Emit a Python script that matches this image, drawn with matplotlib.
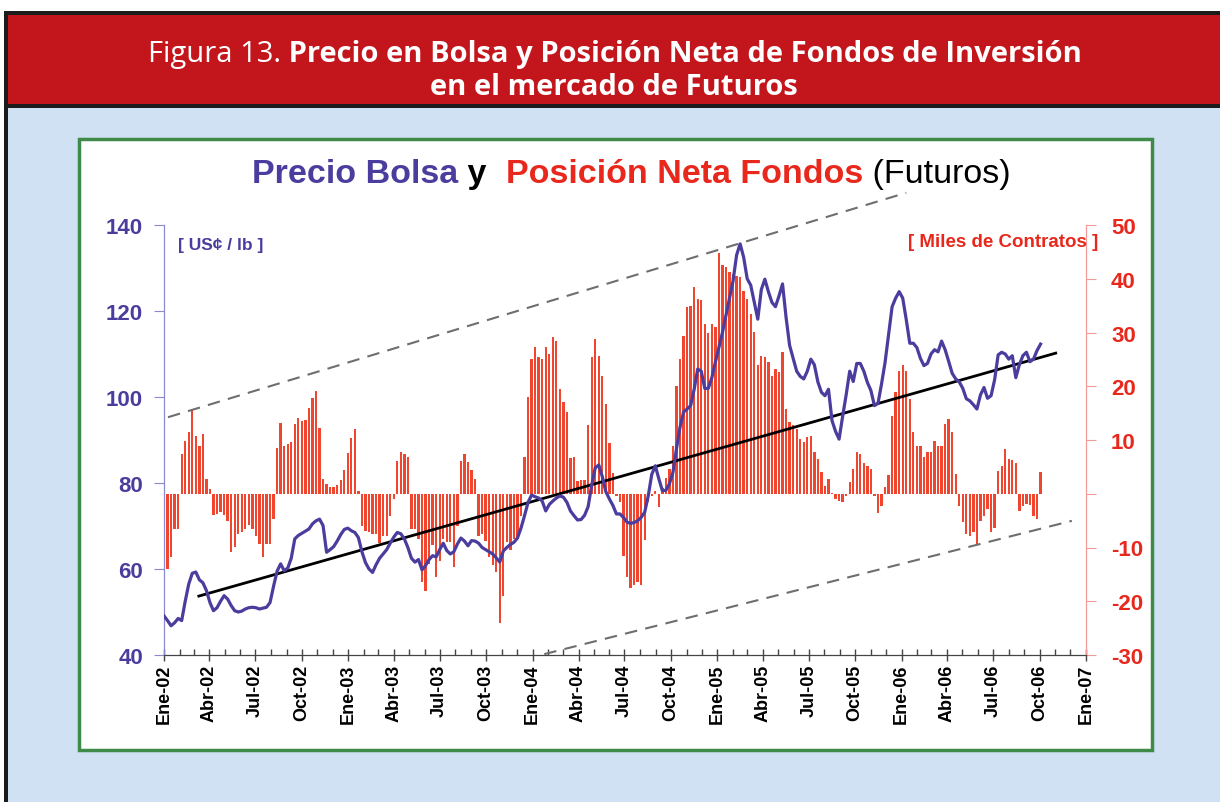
import matplotlib
matplotlib.use("Agg")
import matplotlib.pyplot as plt
import matplotlib.dates as mdates
from matplotlib.patches import Rectangle
from matplotlib.ticker import FixedLocator, FuncFormatter
import pandas as pd

# weekly series, first week = Ene-02
first_week = "2002-01-01"

# posicion neta fondos (miles de contratos)
net_position = [
    -10.3, -14, -11.8, -6.5, -6.5, 7.4, 9.9, 11.4, 15.8, 10.8, 8.9, 11.1, 2.7, 0.8,
    -4, -3.7, -3.4, -4, -5, -10.9, -9.9, -7.5, -7.1, -6.5, -5.9, -6.5, -7.8, -9.3, -11.8, -9.3, -9.3, -4.7,
    8.5, 13.2, 8.8, 9.2, 9.7, 12.9, 14.1, 13.5, 13.8, 16, 17.8, 19.1, 12.2, 2.8, 1.9, 1.2, 1.2, 1.6, 2.5, 4.5, 7.5, 10.4, 12, 0.5,
    -6, -6.9, -7.2, -7.5, -7.5, -9.2, -7.8, -7.8, -4.2, -1,
    6.1, 7.7, 7.4, 6.8,
    -6.6, -6.6, -8.4, -16.5, -18, -13, -9.6, -15.5, -12.5, -8.4, -9, -9, -13.7, -6,
    6.1, 7.4, 6, 4.5, 2.7,
    -7.8, -7.5, -8.8, -11.7, -13.2, -14.5, -24, -19, -9, -10.4, -8.4, -8.4, -4.1,
    6.8, 18, 25.1, 27.3, 25.4, 25.1, 27.3, 26, 29.1, 28.5, 19.4, 17, 15.2, 6.6, 6.8, 2.3, 2.5, 2.5,
    12.7, 25.4, 28.8, 25.7, 22, 16.7, 9.4, 3.9, -0.5,
    -1.6, -11.6, -15.5, -17.5, -16.9, -16.5, -16.9, -8.6, -1.6, -0.5, 0.5, -2.5, 1, 3,
    4.6, 8.9, 20.1, 25.1, 29.4, 34.7, 35, 38.4, 36.3, 36, 31.6, 30, 31.6, 31, 44.7, 42.5, 42.2, 41.2,
    40.9, 40.6, 40.3, 37.8, 36.3, 33.5, 30.1, 23.9, 25.7, 25.4, 24.5, 22, 23.2, 22.6, 26.3, 15.8, 13.3, 12.7, 12, 10.2,
    9.6, 10.5, 10.8, 7.7, 6.5, 4, 1.5, 2.7, 0.2, -1, -1.3, -1.6, -0.4, 2.1, 4.6, 7.7, 7.4, 5.8, 5.2, 4.6,
    -0.4, -3.5, -2.2, 1.2, 3.4, 14.5, 18.9, 22.9, 23.9, 22.9, 17.6, 11.4, 8.9, 8.9, 6.8, 7.7, 7.7, 9.9, 8.9, 8.9,
    13, 13.9, 11.4, 3.7, -2.2, -5.3, -7.5, -7.8, -7.2, -9.4, -5, -4.1, -2.9, -7.2, -6.3, 4.3, 5.2, 8.3, 6.5, 6.2,
    5.8, -3.2, -2.2, -1.9, -2, -4.1, -4.7, 4,
]

# precio bolsa (US cents / lb)
price = [
    49.1, 48, 46.8, 47.5, 48.5, 48, 52.5, 56.5, 59, 59.3, 57.5, 56.8, 55, 52.2, 50.3, 51, 52.5, 53.8,
    53, 51.5, 50.3, 50, 50.2, 50.7, 51, 51.1, 51, 50.7, 50.9, 51.1, 52.2, 56, 59.5, 61.2, 59.6, 60.2,
    62.5, 67, 67.8, 68.3, 68.8, 69.3, 70.5, 71.2, 71.6, 70.1, 63.9, 64.5, 65.2, 66.5, 68, 69.2, 69.5, 68.9,
    68.5, 67.3, 64, 61.5, 60, 59.2, 61, 62.5, 63.5, 64.5, 66, 67.4, 68.5, 68.2, 67, 65, 62.5, 61.6,
    62.2, 59.8, 60.8, 62.2, 63.1, 62.8, 64.5, 66, 64.3, 63.5, 64, 65.8, 67.2, 66.5, 65.4, 66.6, 66.5, 66,
    65, 64.5, 64, 63.5, 62.6, 61.6, 64.2, 65, 65.7, 66.2, 67.2, 69.5, 72.4, 75.5, 77.2, 76.8,
    76.5, 75.8, 73.5, 75, 75.8, 76.5, 77, 76.7, 75.5, 73.5, 72.4, 71.4, 71.5, 72.5, 74.5, 79.5, 83.5, 84.2,
    81.5, 78, 76.3, 74.8, 72.8, 72.8, 72, 70.9, 70.6, 70.8, 71.2, 72, 73.2, 77, 82, 84, 81, 78.2,
    78.3, 79.8, 82.5, 88, 93, 96.5, 97.2, 98, 101.8, 106.5, 106, 102, 102, 104.5, 108.1, 111.5, 115, 119,
    123, 127, 133, 135.6, 132.5, 127.5, 126, 122, 118.1, 125, 127.4, 124.5, 122, 121, 123.5, 126.3, 118.5, 112,
    109, 106, 104.8, 104.2, 106, 108.8, 107.5, 103.5, 101.1, 100.3, 101.8, 94.5, 92, 90.2, 95.5, 100.5, 106, 103.6,
    107.8, 107.8, 106, 103.4, 101.5, 98, 98.5, 103, 108, 114.5, 121, 123, 124.5, 123, 118, 112.5, 112.5, 111.5,
    109, 107.3, 107.8, 110, 111, 110.5, 113, 111, 108.3, 105.5, 104.2, 103.5, 102, 99.6, 99.1, 98.2, 97.2, 100.5,
    102.2, 99.7, 100.3, 104, 109.8, 110.4, 110, 108.8, 109.6, 104.5, 107.5, 109.6, 110.4, 108.2, 108.8, 110.8, 112.3,
]

# lineas de tendencia (fecha, precio)
trend_dates = ["2002-03-11", "2006-11-02"]
trend_price = [53.7, 110.2]
upper_dates = ["2002-01-09", "2006-01-10"]
upper_price = [95.3, 147.5]
lower_dates = ["2004-01-24", "2006-12-04"]
lower_price = [40.2, 71.2]

tick_dates = pd.date_range("2002-01-01", "2007-01-01", freq="3MS")
month_names = {1: "Ene", 4: "Abr", 7: "Jul", 10: "Oct"}
tick_labels = [f"{month_names[d.month]}-{d.strftime('%y')}" for d in tick_dates]

BLUE = "#4a3d9e"
RED = "#e8281c"
BAR = "#f0452f"

plt.rcParams["font.family"] = ["Liberation Sans", "DejaVu Sans"]
banner_font = "Open Sans"
banner_size = 21

W, H = 1220, 803
fig = plt.figure(figsize=(W / 100, H / 100), dpi=100, facecolor="white")


def rect(x0, y0, x1, y1, **kw):
    fig.add_artist(Rectangle((x0 / W, 1 - y1 / H), (x1 - x0) / W, (y1 - y0) / H,
                             transform=fig.transFigure, zorder=-10, **kw))


# page background: dark frame, red banner, light blue page, white panel
rect(4, 12, W, H, facecolor="#1c1c1c", edgecolor="none")
rect(8, 16, W, 105, facecolor="#c3161c", edgecolor="none")
rect(8, 109, W, H, facecolor="#cfe1f2", edgecolor="none")
rect(79, 140, 1152, 751, facecolor="white", edgecolor="#3f8a48", linewidth=2.5)

ax1 = fig.add_axes([164 / W, 1 - 656 / H, 922 / W, 430 / H])
ax2 = ax1.twinx()
ax1.set_zorder(ax2.get_zorder() + 1)
ax1.patch.set_visible(False)
ax2.patch.set_visible(False)

# banner title
t1 = fig.text(148 / W, 1 - 62 / H, "Figura 13.", color="white", fontsize=banner_size,
              family=banner_font, va="baseline")
ax1.annotate(" Precio en Bolsa y Posición Neta de Fondos de Inversión", xy=(1, 0), xycoords=t1,
             va="bottom", color="white", fontsize=banner_size, family=banner_font,
             fontweight="bold", annotation_clip=False)
fig.text(614 / W, 1 - 95 / H, "en el mercado de Futuros", color="white", fontsize=banner_size,
         family=banner_font, fontweight="bold", ha="center", va="baseline")

weeks = pd.date_range(first_week, periods=len(net_position), freq="7D")

ax2.bar(weeks, net_position, width=4.6, color=BAR, linewidth=0, zorder=2)
ax1.plot(pd.to_datetime(upper_dates), upper_price, color="#6e6e6e", lw=1.5,
         dashes=(6, 4), clip_on=False, zorder=3)
ax1.plot(pd.to_datetime(lower_dates), lower_price, color="#6e6e6e", lw=1.5,
         dashes=(6, 4), zorder=3)
ax1.plot(pd.to_datetime(trend_dates), trend_price, color="black", lw=2, zorder=4)
ax1.plot(weeks[:len(price)], price, color=BLUE, lw=2.3, zorder=5)

ax1.set_xlim(pd.Timestamp("2002-01-01"), pd.Timestamp("2007-01-01"))
ax1.set_ylim(40, 140)
ax2.set_ylim(-30, 50)

ax1.xaxis.set_major_locator(FixedLocator(mdates.date2num(tick_dates)))
ax1.xaxis.set_minor_locator(mdates.MonthLocator())
ax1.set_xticklabels(tick_labels, rotation=90, fontsize=13, fontweight="bold")
ax1.tick_params(axis="x", which="major", direction="inout", length=9, width=1, color="#444444", pad=2)
ax1.tick_params(axis="x", which="minor", direction="in", length=4, width=1, color="#444444")

ax1.set_yticks(range(40, 141, 20))
ax1.tick_params(axis="y", direction="out", length=7, color="#8a8ad0", labelcolor=BLUE,
                labelsize=16, pad=8)
for lab in ax1.get_yticklabels():
    lab.set_fontweight("bold")

ax2.set_yticks(range(-30, 51, 10))
ax2.yaxis.set_major_formatter(FuncFormatter(lambda v, p: "" if v == 0 else f"{v:.0f}"))
ax2.tick_params(axis="y", direction="out", length=7, color="#f29a9a", labelcolor=RED,
                labelsize=16, pad=11)
for lab in ax2.get_yticklabels():
    lab.set_fontweight("bold")

for ax in (ax1, ax2):
    ax.spines["top"].set_visible(False)
    ax.spines["bottom"].set_color("#444444")
    ax.spines["left"].set_color("#8a8ad0")
    ax.spines["right"].set_color("#f29a9a")

ax1.text(0.015, 0.955, "[ US¢ / lb ]", transform=ax1.transAxes, color=BLUE, fontsize=12.5,
         fontweight="bold", va="center")
ax1.text(1.013, 0.962, "[ Miles de Contratos ]", transform=ax1.transAxes, color=RED,
         fontsize=13.5, fontweight="bold", va="center", ha="right")

# chart title, built from coloured pieces
size = 24.5
p1 = fig.text(252 / W, 1 - 183 / H, "Precio Bolsa", color=BLUE, fontsize=size,
              fontweight="bold", va="baseline")
p2 = ax1.annotate(" y  ", xy=(1, 0), xycoords=p1, va="bottom", color="black",
                  fontsize=size, fontweight="bold", annotation_clip=False)
p3 = ax1.annotate("Posición Neta Fondos", xy=(1, 0), xycoords=p2, va="bottom", color=RED,
                  fontsize=size, fontweight="bold", annotation_clip=False)
ax1.annotate(" (Futuros)", xy=(1, 0), xycoords=p3, va="bottom", color="black",
             fontsize=size, annotation_clip=False)

fig.savefig("out.png", dpi=100, facecolor=fig.get_facecolor())
